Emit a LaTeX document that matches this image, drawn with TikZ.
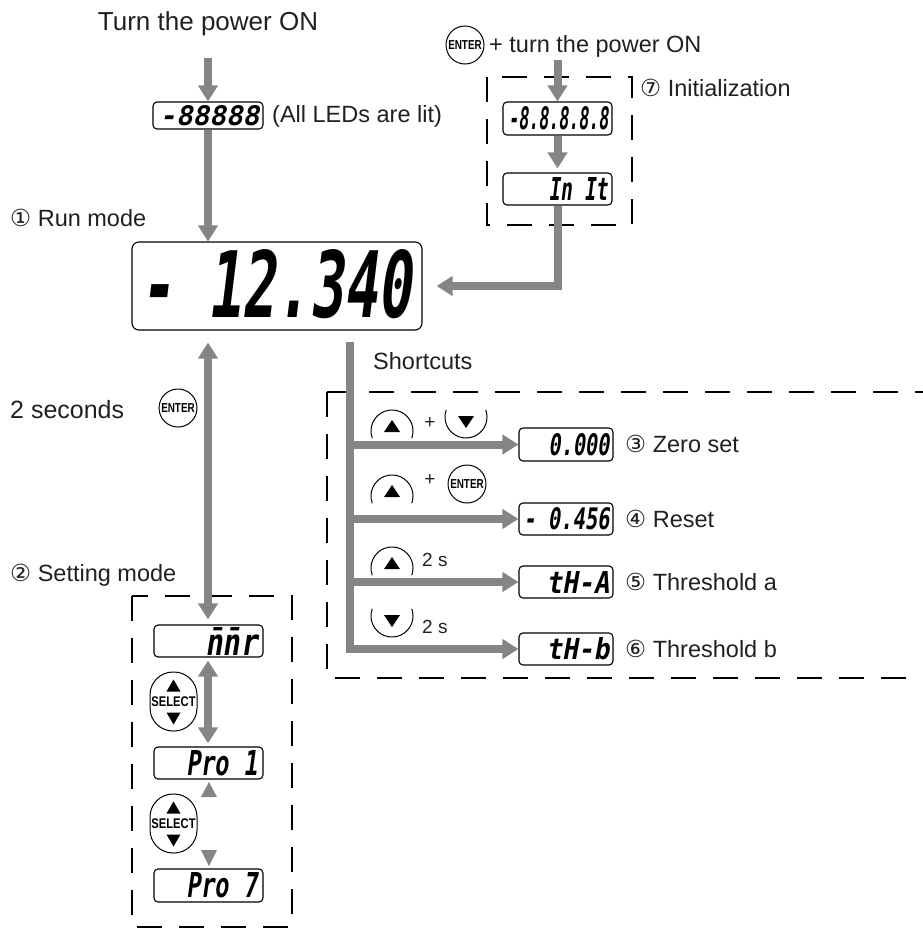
\documentclass[tikz,border=0pt]{standalone}
\usepackage{fontspec}
\usepackage{graphicx}
\setmainfont{Liberation Sans}
\newfontfamily\segfont{DejaVu Sans Mono}[FakeSlant=0.2]
\newfontfamily\symfont{DejaVu Sans}
\usetikzlibrary{arrows.meta}
\definecolor{garr}{RGB}{133,133,133}
\definecolor{ink}{RGB}{35,31,32}
\newcommand{\segtxt}[3]{\resizebox{#1pt}{#2pt}{\segfont\bfseries #3}}
\newcommand{\entertxt}{\scalebox{0.76}[1]{\bfseries\fontsize{13}{13}\selectfont ENTER}}
\newcommand{\selecttxt}{\scalebox{0.8}[1]{\bfseries\fontsize{14}{14}\selectfont SELECT}}
\begin{document}
\begin{tikzpicture}[x=1pt,y=-1pt,
  lbl/.style={font=\fontsize{23.5}{28}\selectfont, inner sep=0pt, text=ink},
  sml/.style={font=\fontsize{19}{23}\selectfont, inner sep=0pt, text=ink},
  disp/.style={draw, line width=1.1pt, rounded corners=4pt, inner sep=0pt},
  garrow/.style={draw=garr, color=garr, line width=8pt, -{Triangle[width=19pt,length=16pt]}},
  gdouble/.style={draw=garr, color=garr, line width=8pt, {Triangle[width=19pt,length=16pt]}-{Triangle[width=19pt,length=16pt]}},
  dbox/.style={draw, line width=1.6pt, dash pattern=on 25pt off 17pt},
  enterbtn/.style={draw, circle, line width=1pt, minimum size=38pt, inner sep=0pt},
  selbtn/.style={draw, line width=1pt, rounded corners=23pt, minimum width=47pt, minimum height=59pt, inner sep=0pt},
  upbtn/.pic={\draw[line width=1pt] (160:21) arc[start angle=160,end angle=380,radius=21];
              \fill (-8,1) -- (8,1) -- (0,-11) -- cycle;},
  downbtn/.pic={\draw[line width=1pt] (200:21) arc[start angle=200,end angle=-20,radius=21];
              \fill (-8,-1) -- (8,-1) -- (0,11) -- cycle;},
]
\useasboundingbox (0,0) rectangle (923,929);
\clip (0,0) rectangle (923,929);

% ---------- power on / all LEDs ----------
\node[lbl, font=\fontsize{26}{30}\selectfont] (t1) at (208,24) {Turn the power ON};
\node[disp, minimum width=110pt, minimum height=27pt] (d1) at (208,115.5) {};
\node[anchor=east, inner sep=0pt] (d1t) at ([xshift=-4pt]d1.east) {\segtxt{100}{20}{-88888}};
\node[lbl, anchor=west] (t1b) at (272,116) {(All LEDs are lit)};
\coordinate (a1s) at (208,58);
\draw[garrow] (a1s) -- (d1.north);

% ---------- run mode ----------
\node[lbl, anchor=west] (run) at (10,218) {{\symfont ①} Run mode};
\node[disp, minimum width=290pt, minimum height=88pt, rounded corners=7pt] (big) at (277,286) {};
\node[inner sep=0pt] (bigt) at (276,284) {\segtxt{272}{68}{- 12.340}};
\draw[garrow] (d1.south) -- (d1.south |- big.north);

% ---------- initialization ----------
\node[enterbtn] (e1) at (465,45) {\entertxt};
\node[lbl, anchor=west] (pw) at (489,46) {+ turn the power ON};
\draw[dbox] (487,77) rectangle (632,225);
\node[lbl, anchor=west] (ini) at (640,88) {{\symfont ⑦} Initialization};
\node[disp, minimum width=109pt, minimum height=33pt] (d2) at (557.5,118.5) {};
\node[anchor=east, inner sep=0pt] (d2t) at ([xshift=-4pt]d2.east) {\segtxt{100}{23}{-8.8.8.8.8}};
\node[disp, minimum width=109pt, minimum height=32pt] (d3) at (557.5,189) {};
\node[anchor=east, inner sep=0pt] (d3t) at ([xshift=-5pt]d3.east) {\segtxt{59}{23}{In It}};
\coordinate (a3s) at (557.5,60);
\draw[garrow] (a3s) -- (d2.north);
\draw[garrow, shorten >=4pt] (d2.south) -- (d3.north);
\draw[garrow, shorten >=14pt] (d3.south) -- (d3.south |- big.east) -- (big.east);

% ---------- setting mode ----------
\node[lbl, anchor=west, font=\fontsize{25}{30}\selectfont] (twos) at (10,410) {2 seconds};
\node[enterbtn] (e2) at (178,408) {\entertxt};
\node[lbl, anchor=west] (setm) at (10,575) {{\symfont ②} Setting mode};
\draw[dbox] (132,596) rectangle (292,927);
\node[disp, minimum width=109pt, minimum height=32pt] (m0) at (208.5,641) {};
\node[anchor=east, inner sep=0pt] (m0t) at ([xshift=-6pt]m0.east) {\segtxt{52}{28}{n̄n̄r}};
\draw[gdouble, shorten <=12pt, shorten >=5pt] (d1.south |- big.south) -- (d1.south |- m0.north);
\node[selbtn] (s1) at (173.5,701.5) {\selecttxt};
\fill (s1.center) ++(-7,-10) -- ++(14,0) -- ++(-7,-12) -- cycle;
\fill (s1.center) ++(-7,11) -- ++(14,0) -- ++(-7,12) -- cycle;
\node[disp, minimum width=109pt, minimum height=32pt] (p1) at (208.5,763) {};
\node[anchor=east, inner sep=0pt] (p1t) at ([xshift=-6pt]p1.east) {\segtxt{71}{25}{Pro 1}};
\draw[gdouble, shorten <=3pt, shorten >=3pt] (d1.south |- m0.south) -- (d1.south |- p1.north);
\fill[garr] (201,797) -- (217,797) -- (209,782) -- cycle;
\node[selbtn] (s2) at (173.5,823.5) {\selecttxt};
\fill (s2.center) ++(-7,-10) -- ++(14,0) -- ++(-7,-12) -- cycle;
\fill (s2.center) ++(-7,11) -- ++(14,0) -- ++(-7,12) -- cycle;
\fill[garr] (201,850) -- (217,850) -- (209,866) -- cycle;
\node[disp, minimum width=109pt, minimum height=33pt] (p7) at (208.5,885.5) {};
\node[anchor=east, inner sep=0pt] (p7t) at ([xshift=-6pt]p7.east) {\segtxt{71}{25}{Pro 7}};

% ---------- shortcuts ----------
\node[lbl, anchor=west] (sc) at (373,361) {Shortcuts};
\draw[dbox] (327,392) -- (940,392);
\draw[dbox] (327,392) -- (327,678) -- (940,678);
\node[disp, minimum width=94pt, minimum height=33pt] (z1) at (566,444.5) {};
\node[anchor=east, inner sep=0pt] (z1t) at ([xshift=-4pt]z1.east) {\segtxt{61}{22}{0.000}};
\node[disp, minimum width=94pt, minimum height=32pt] (z2) at (566,519) {};
\node[anchor=east, inner sep=0pt] (z2t) at ([xshift=-4pt]z2.east) {\segtxt{86}{22}{- 0.456}};
\node[disp, minimum width=94pt, minimum height=32pt] (z3) at (566,582) {};
\node[anchor=east, inner sep=0pt] (z3t) at ([xshift=-4pt]z3.east) {\segtxt{63}{22}{tH-A}};
\node[disp, minimum width=94pt, minimum height=32pt] (z4) at (566,649) {};
\node[anchor=east, inner sep=0pt] (z4t) at ([xshift=-4pt]z4.east) {\segtxt{63}{22}{tH-b}};

\node[lbl, anchor=west] (l3) at (625,444) {{\symfont ③} Zero set};
\node[lbl, anchor=west] (l4) at (625,519) {{\symfont ④} Reset};
\node[lbl, anchor=west] (l5) at (625,582) {{\symfont ⑤} Threshold a};
\node[lbl, anchor=west] (l6) at (625,649) {{\symfont ⑥} Threshold b};

\coordinate (stop) at (350,342);
\coordinate (b1) at (346,444.5);
\coordinate (b2) at (346,519);
\coordinate (b3) at (346,582);
\draw[garrow] (stop) -- (stop |- z4.west) -- (z4.west);
\draw[garrow] (b1) -- (z1.west);
\draw[garrow] (b2) -- (z2.west);
\draw[garrow] (b3) -- (z3.west);

\pic at (392,431) {upbtn};
\node[sml] (plus1) at (430,423) {+};
\pic at (466,417) {downbtn};
\pic at (392,496) {upbtn};
\node[sml] (plus2) at (430,480) {+};
\node[enterbtn] (e3) at (467,484) {\entertxt};
\pic at (392,568) {upbtn};
\node[sml, anchor=west] (s2a) at (422,560) {2 s};
\pic at (392,616) {downbtn};
\node[sml, anchor=west] (s2b) at (422,627) {2 s};
\end{tikzpicture}
\end{document}
